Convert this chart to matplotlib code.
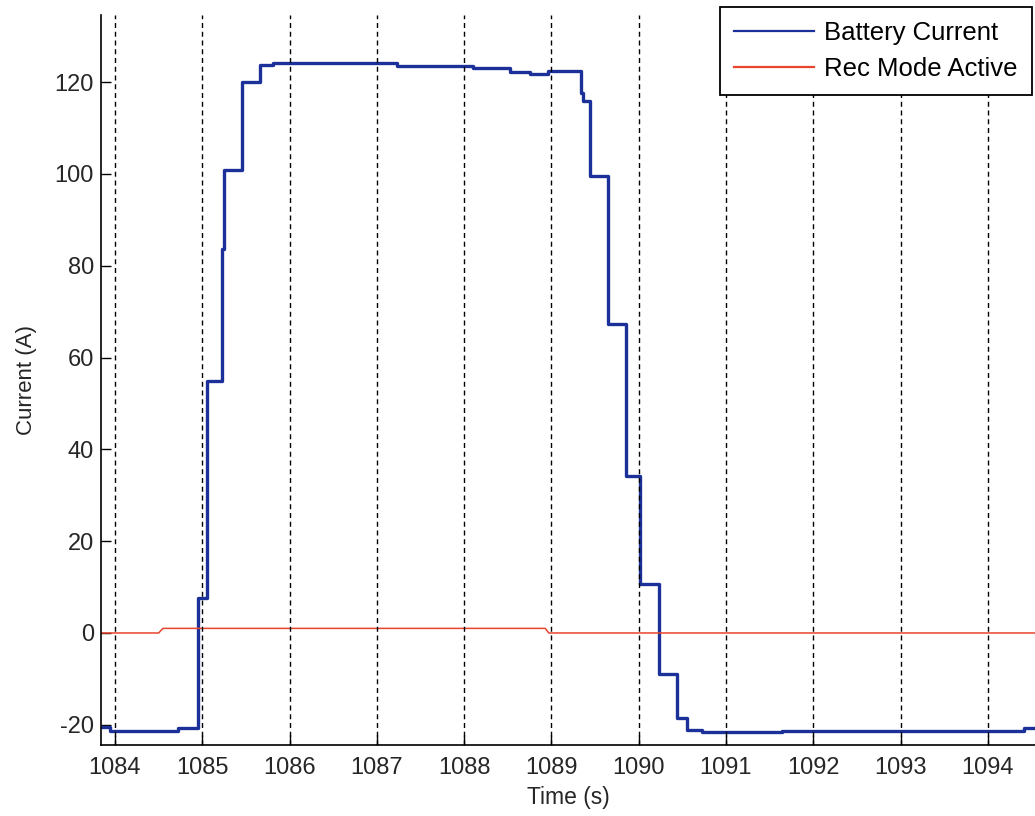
import numpy as np
import matplotlib
matplotlib.use("Agg")
import matplotlib.pyplot as plt

plt.rcParams['font.family'] = ['Liberation Sans', 'DejaVu Sans']
plt.rcParams['axes.unicode_minus'] = False

# battery current, step signal (time s, current A)
t_batt = [1083.84, 1083.94, 1084.72, 1084.95, 1085.05, 1085.23, 1085.25, 1085.45,
          1085.66, 1085.81, 1087.23, 1088.10, 1088.53, 1088.75, 1088.96, 1089.34,
          1089.36, 1089.44, 1089.65, 1089.85, 1090.02, 1090.23, 1090.44, 1090.55,
          1090.72, 1091.64, 1094.41, 1094.54]
i_batt = [-20.5, -21.3, -20.6, 7.6, 54.9, 83.7, 100.9, 120.1,
          123.7, 124.1, 123.6, 123.1, 122.2, 121.8, 122.3, 117.6,
          115.8, 99.6, 67.3, 34.2, 10.7, -9.0, -18.6, -21.1,
          -21.6, -21.3, -20.8, -20.8]

# regen mode flag
t_rec = [1083.84, 1084.50, 1084.55, 1088.93, 1088.97, 1094.54]
rec_active = [0, 0, 1, 1, 0, 0]

xticks = np.arange(1084, 1095)
yticks = np.arange(-20, 121, 20)

fig = plt.figure(figsize=(10.35, 8.16), dpi=100)
ax = fig.add_axes([101/1035, 1 - 745/816, 1 - 101/1035, (745 - 15)/816])

ax.plot(t_batt, i_batt, drawstyle='steps-post', color='#1b3199', lw=2.4,
        label='Battery Current')
ax.plot(t_rec, rec_active, color='#e8452c', lw=1.1, label='Rec Mode Active')

for x in xticks:
    ax.axvline(x, color='k', lw=1.0, linestyle=(0, (3.6, 2.7)), zorder=3)

ax.set_xlim(1083.84, 1094.54)
ax.set_ylim(-24.4, 134.6)
ax.set_xticks(xticks)
ax.set_yticks(yticks)
ax.tick_params(direction='in', length=7, width=1, labelsize=17,
               labelcolor='#262626')
ax.tick_params(axis='x', pad=9)
ax.tick_params(axis='y', pad=5)
ax.spines['top'].set_visible(False)
ax.spines['right'].set_visible(False)
for s in ['left', 'bottom']:
    ax.spines[s].set_linewidth(1.2)

ax.set_xlabel('Time (s)', fontsize=16.5, color='#262626', labelpad=5)
ax.set_ylabel('Current (A)', fontsize=16, color='#262626', labelpad=13)

leg = ax.legend(loc='upper right', bbox_to_anchor=(1032/1035, 1 - 7/816),
                bbox_transform=fig.transFigure, borderaxespad=0,
                fontsize=18.5, fancybox=False, framealpha=1, edgecolor='k',
                handlelength=3.1, handletextpad=0.4, labelspacing=0.45,
                borderpad=0.55)
leg.get_frame().set_linewidth(1.3)
for h in leg.get_lines():
    h.set_linewidth(1.6)
leg.set_zorder(5)

plt.savefig("out.png", dpi=100)
